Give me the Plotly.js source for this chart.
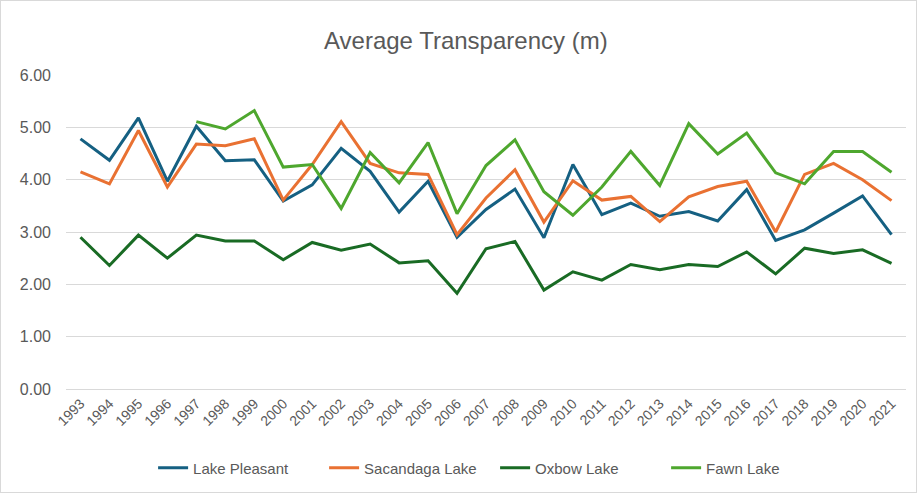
<!DOCTYPE html>
<html>
<head>
<meta charset="utf-8">
<script src="https://cdn.plot.ly/plotly-3.0.1.min.js"></script>
<style>
  html, body { margin: 0; padding: 0; background: #fff; }
  #chart { width: 915px; height: 491px; border: 1px solid #d9d9d9; }
</style>
</head>
<body>
<div id="chart"></div>
<script>
const years = ['1993', '1994', '1995', '1996', '1997', '1998', '1999', '2000', '2001', '2002',
    '2003', '2004', '2005', '2006', '2007', '2008', '2009', '2010', '2011', '2012',
    '2013', '2014', '2015', '2016', '2017', '2018', '2019', '2020', '2021'];

const lakePleasant = [4.78, 4.37, 5.18, 3.97, 5.02, 4.36, 4.38, 3.59, 3.90, 4.60,
    4.16, 3.38, 3.97, 2.90, 3.43, 3.82, 2.89, 4.29, 3.33, 3.55,
    3.30, 3.39, 3.21, 3.81, 2.84, 3.04, 3.36, 3.69, 2.95];

const sacandagaLake = [4.15, 3.92, 4.94, 3.86, 4.68, 4.65, 4.78, 3.61, 4.29, 5.11,
    4.31, 4.13, 4.10, 2.95, 3.65, 4.19, 3.19, 3.98, 3.61, 3.68,
    3.20, 3.67, 3.87, 3.97, 3.00, 4.10, 4.31, 4.00, 3.60];

const oxbowLake = [2.90, 2.36, 2.94, 2.50, 2.94, 2.83, 2.83, 2.47, 2.80, 2.65,
    2.77, 2.41, 2.45, 1.83, 2.68, 2.82, 1.89, 2.24, 2.08, 2.38,
    2.28, 2.38, 2.34, 2.62, 2.20, 2.69, 2.59, 2.66, 2.40];

// Fawn Lake starts in 1997
const fawnLake = [null, null, null, null, 5.11, 4.97, 5.32, 4.24, 4.29, 3.45,
    4.52, 3.94, 4.71, 3.35, 4.27, 4.76, 3.77, 3.32, 3.86, 4.54,
    3.89, 5.07, 4.49, 4.89, 4.13, 3.92, 4.54, 4.54, 4.14];

const yTicks = [0, 1, 2, 3, 4, 5, 6];

const series = [
    { name: 'Lake Pleasant', y: lakePleasant, color: '#156082' },
    { name: 'Sacandaga Lake', y: sacandagaLake, color: '#E97132' },
    { name: 'Oxbow Lake', y: oxbowLake, color: '#196B24' },
    { name: 'Fawn Lake', y: fawnLake, color: '#4EA72E' }
];

const traces = series.map(s => ({
    x: years,
    y: s.y,
    type: 'scatter',
    mode: 'lines',
    name: s.name,
    line: { color: s.color, width: 3 },
    connectgaps: false
}));

const layout = {
    width: 915,
    height: 491,
    margin: { l: 65, r: 10, t: 74, b: 103 },
    paper_bgcolor: '#ffffff',
    plot_bgcolor: '#ffffff',
    font: { family: '"Liberation Sans", Arial, sans-serif', color: '#595959', size: 14 },
    title: {
        text: 'Average Transparency (m)',
        font: { size: 24, color: '#595959' },
        x: 0.508,
        xanchor: 'center',
        y: 1 - 40 / 491,
        yanchor: 'middle'
    },
    xaxis: {
        type: 'category',
        range: [-0.5, 28.5],
        tickangle: -45,
        tickfont: { size: 14, color: '#595959' },
        showgrid: false,
        showline: true,
        linecolor: '#d9d9d9',
        linewidth: 1,
        ticks: '',
        zeroline: false,
        automargin: false
    },
    yaxis: {
        range: [0, 6],
        tickvals: yTicks,
        ticktext: yTicks.map(v => v.toFixed(2)),
        tickfont: { size: 16, color: '#595959' },
        gridcolor: '#d9d9d9',
        gridwidth: 1,
        zeroline: false,
        showline: false,
        ticks: '',
        ticklabelstandoff: 14,
        automargin: false
    },
    legend: {
        orientation: 'h',
        xref: 'container',
        yref: 'container',
        x: 0.54,
        xanchor: 'center',
        y: 1 - 467 / 491,
        yanchor: 'middle',
        font: { size: 15, color: '#595959' },
        itemwidth: 30,
        entrywidth: 126
    },
    showlegend: true
};

Plotly.newPlot('chart', traces, layout, { displayModeBar: false, staticPlot: true });
</script>
</body>
</html>
